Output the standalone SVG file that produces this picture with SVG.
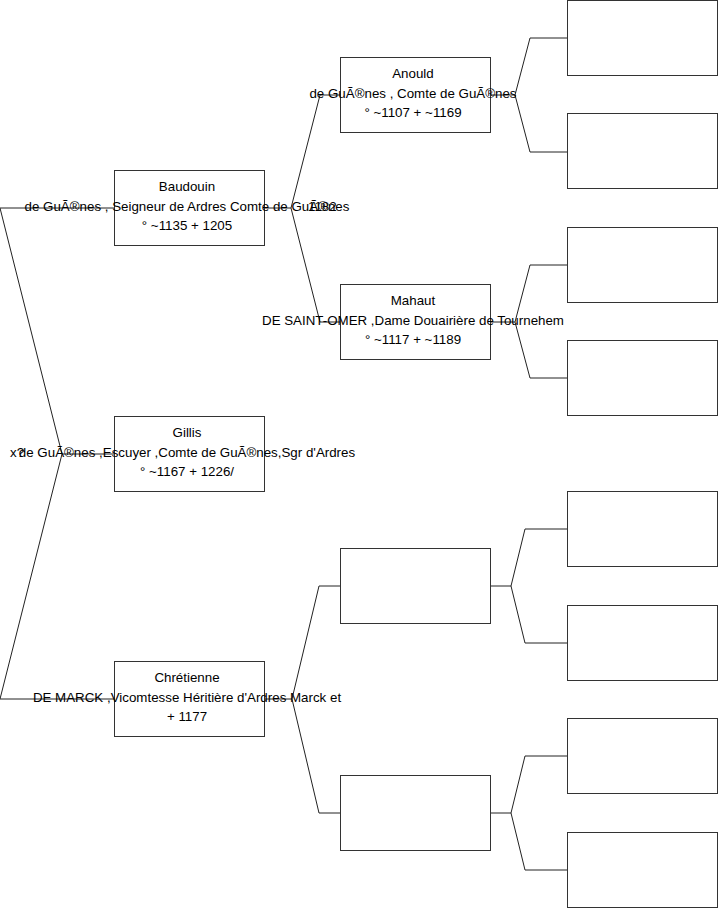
<svg xmlns="http://www.w3.org/2000/svg" width="719" height="908" viewBox="0 0 719 908">
<style>
.box{fill:#fff;stroke:#333;stroke-width:1}
.ln{fill:none;stroke:#222;stroke-width:1}
text{font-family:"Liberation Sans",Arial,sans-serif;font-size:13.33px;fill:#000;text-anchor:middle}
.lbl{text-anchor:start}
</style>
<g id="connectors">
<polyline class="ln" points="114,454 62,454"/>
<polyline class="ln" points="114,208 0,208 62,454 0,699 114,699"/>
<polyline class="ln" points="265,208 291,208"/>
<polyline class="ln" points="340,95 320,95 291,208 320,322 340,322"/>
<polyline class="ln" points="265,699 292,699"/>
<polyline class="ln" points="340,586 319,586 292,699 319,813 340,813"/>
<polyline class="ln" points="491,95 515,95"/>
<polyline class="ln" points="567,38 530,38 515,95 530,152 567,152"/>
<polyline class="ln" points="491,322 515,322"/>
<polyline class="ln" points="567,265 530,265 515,322 530,378 567,378"/>
<polyline class="ln" points="491,586 511,586"/>
<polyline class="ln" points="567,529 525,529 511,586 525,643 567,643"/>
<polyline class="ln" points="491,813 511,813"/>
<polyline class="ln" points="567,756 525,756 511,813 525,870 567,870"/>
</g>
<g id="baudouin">
<rect class="box" x="114.5" y="170.5" width="150" height="75"/>
<text x="187" y="191">Baudouin</text>
<text x="187" y="211">de GuÃ®nes , Seigneur de Ardres Comte de GuÃ®nes</text>
<text x="187" y="230">° ~1135 + 1205</text>
</g>
<g id="gillis">
<rect class="box" x="114.5" y="416.5" width="150" height="75"/>
<text x="187" y="437">Gillis</text>
<text x="187" y="457">de GuÃ®nes ,Escuyer ,Comte de GuÃ®nes,Sgr d'Ardres</text>
<text x="187" y="476">° ~1167 + 1226/</text>
</g>
<g id="chretienne">
<rect class="box" x="114.5" y="661.5" width="150" height="75"/>
<text x="187" y="682">Chrétienne</text>
<text x="187" y="702">DE MARCK ,Vicomtesse Héritière d'Ardres Marck et</text>
<text x="187" y="721">+ 1177</text>
</g>
<g id="anould">
<rect class="box" x="340.5" y="57.5" width="150" height="75"/>
<text x="413" y="78">Anould</text>
<text x="413" y="98">de GuÃ®nes , Comte de GuÃ®nes</text>
<text x="413" y="117">° ~1107 + ~1169</text>
</g>
<g id="mahaut">
<rect class="box" x="340.5" y="284.5" width="150" height="75"/>
<text x="413" y="305">Mahaut</text>
<text x="413" y="325">DE SAINT-OMER ,Dame Douairière de Tournehem</text>
<text x="413" y="344">° ~1117 + ~1189</text>
</g>
<g id="p3"><rect class="box" x="340.5" y="548.5" width="150" height="75"/></g>
<g id="p4"><rect class="box" x="340.5" y="775.5" width="150" height="75"/></g>
<g id="a1"><rect class="box" x="567.5" y="0.5" width="150" height="75"/></g>
<g id="a2"><rect class="box" x="567.5" y="113.5" width="150" height="75"/></g>
<g id="a3"><rect class="box" x="567.5" y="227.5" width="150" height="75"/></g>
<g id="a4"><rect class="box" x="567.5" y="340.5" width="150" height="75"/></g>
<g id="a5"><rect class="box" x="567.5" y="491.5" width="150" height="75"/></g>
<g id="a6"><rect class="box" x="567.5" y="605.5" width="150" height="75"/></g>
<g id="a7"><rect class="box" x="567.5" y="718.5" width="150" height="75"/></g>
<g id="a8"><rect class="box" x="567.5" y="832.5" width="150" height="75"/></g>
<g id="labels">
<text class="lbl" x="308" y="211">1182</text>
<text class="lbl" x="10" y="457">x?</text>
</g>
</svg>
